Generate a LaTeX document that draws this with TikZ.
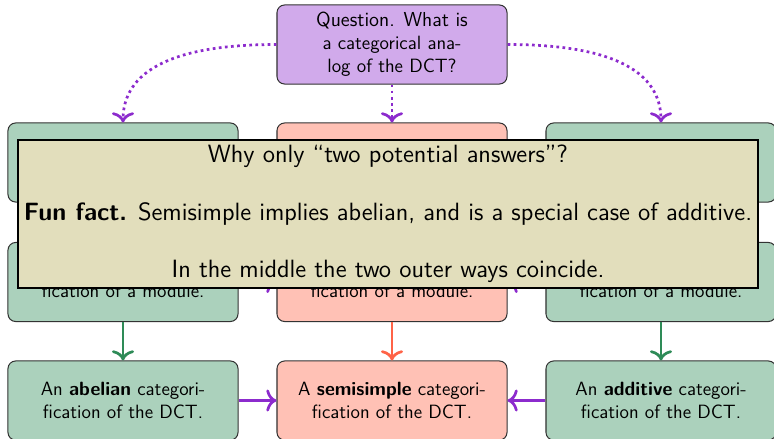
\documentclass[tikz,border=0pt]{standalone}
\usetikzlibrary{arrows.meta}
\definecolor{apurple}{RGB}{140,43,205}
\definecolor{agreen}{RGB}{46,139,87}
\definecolor{ared}{RGB}{255,99,71}
\definecolor{overlayfill}{RGB}{226,222,188}
\begin{document}
\begin{tikzpicture}[x=0.5882pt,y=-0.5882pt,
  box/.style={draw=black!80,line width=0.6pt,rounded corners=4.5pt,
    minimum width=135.3pt,minimum height=46.5pt,align=center,inner sep=2pt,
    font=\sffamily\fontsize{11.3}{13.6}\selectfont},
  pbox/.style={box,fill=apurple!40},
  gbox/.style={box,fill=agreen!40},
  rbox/.style={box,fill=ared!40},
  conn/.style={line width=1.6pt,-{Computer Modern Rightarrow[length=6pt,width=13pt]}},
  dconn/.style={conn,apurple,dash pattern=on 1.6pt off 2pt}
]
\useasboundingbox (0,0) rectangle (774,438);
% nodes
\node[pbox] (q) at (392,44.5) {\fontsize{11.9}{12.9}\selectfont Question. What is\\a categorical ana-\\log of the DCT?};
\node[gbox] (l2) at (123,162.5) {};
\node[rbox] (m2) at (392,162.5) {};
\node[gbox] (r2) at (661,162.5) {};
\node[gbox] (l3) at (123,282) {\mbox{}\\[4.7pt]fication of a module.};
\node[rbox] (m3) at (392,282) {\mbox{}\\[4.7pt]fication of a module.};
\node[gbox] (r3) at (661,282) {\mbox{}\\[4.7pt]fication of a module.};
\node[gbox] (l4) at (123,400.5) {An \textbf{abelian} categori-\\fication of the DCT.};
\node[rbox] (m4) at (392,400.5) {A \textbf{semisimple} categori-\\fication of the DCT.};
\node[gbox] (r4) at (661,400.5) {An \textbf{additive} categori-\\fication of the DCT.};
% connectors
\draw[dconn] (q.west) to[out=180,in=90] (l2.north);
\draw[dconn] (q.south) -- (m2.north);
\draw[dconn] (q.east) to[out=0,in=90] (r2.north);
\draw[conn,apurple] (l3.east) -- (m3.west);
\draw[conn,apurple] (r3.west) -- (m3.east);
\draw[conn,agreen] (l3.south) -- (l4.north);
\draw[conn,ared] (m3.south) -- (m4.north);
\draw[conn,agreen] (r3.south) -- (r4.north);
\draw[conn,apurple] (l4.east) -- (m4.west);
\draw[conn,apurple] (r4.west) -- (m4.east);
% overlay
\node[draw=black,line width=0.8pt,fill=overlayfill,minimum width=435.3pt,minimum height=87pt,
  inner sep=0pt,align=center,font=\sffamily\fontsize{14.7}{18}\selectfont] (ov) at (388,214)
  {Why only ``two potential answers''?\\[15.8pt]
   \textbf{Fun fact.} Semisimple implies abelian, and is a special case of additive.\\[15.8pt]
   In the middle the two outer ways coincide.};
\end{tikzpicture}
\end{document}
